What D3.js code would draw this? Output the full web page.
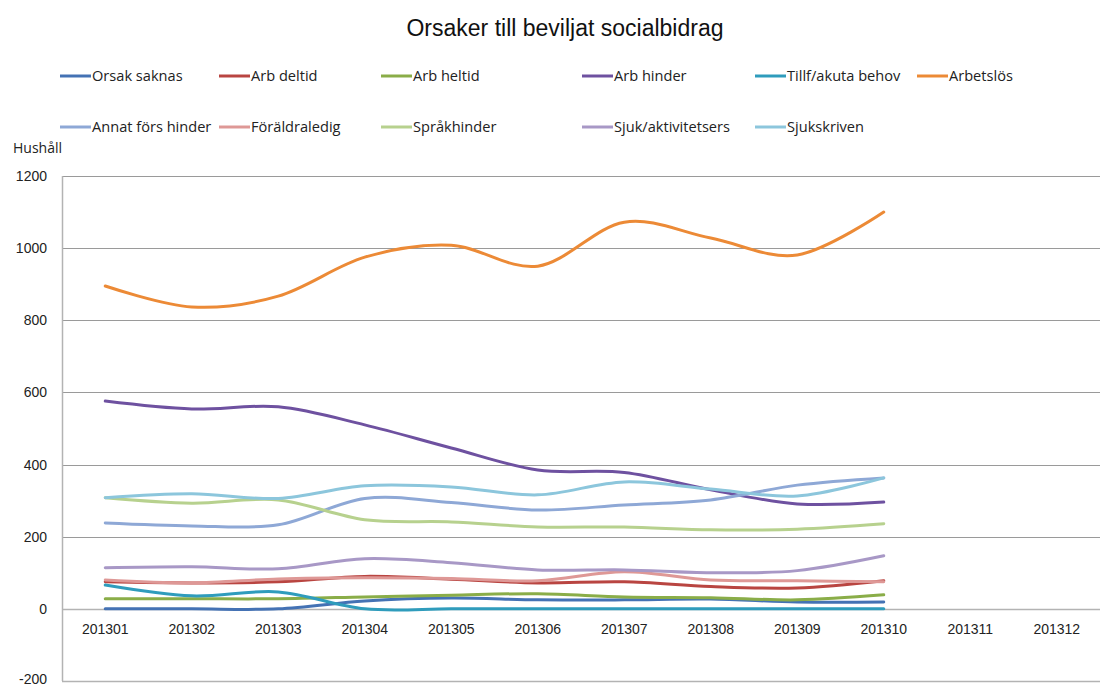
<!DOCTYPE html>
<html>
<head>
<meta charset="utf-8">
<script src="https://cdn.jsdelivr.net/npm/d3@7"></script>
<style>
  body { margin: 0; background: #fff; }
  text { font-family: "Liberation Sans", Arial, sans-serif; }
  .legend text, .ylabel { font-family: "Open Sans", "Noto Sans", sans-serif; }
</style>
</head>
<body>
<div id="chart"></div>
<script>
'use strict'

const months = ['201301', '201302', '201303', '201304', '201305', '201306',
  '201307', '201308', '201309', '201310', '201311', '201312']

const seriesNames = ['Orsak saknas', 'Arb deltid', 'Arb heltid', 'Arb hinder', 'Tillf/akuta behov', 'Arbetslös',
  'Annat förs hinder', 'Föräldraledig', 'Språkhinder', 'Sjuk/aktivitetsers', 'Sjukskriven']

const orsakSaknas = [0, 0, 0, 22, 30, 25, 25, 27, 19, 19]
const arbDeltid = [75, 72, 75, 90, 82, 72, 75, 62, 58, 78]
const arbHeltid = [28, 28, 28, 33, 38, 42, 33, 31, 25, 39]
const arbHinder = [576, 554, 560, 510, 446, 385, 378, 330, 291, 296]
const tillfAkuta = [66, 36, 47, 0, 0, 0, 0, 0, 0, 0]
const arbetslos = [895, 837, 867, 975, 1008, 950, 1072, 1028, 981, 1100]
const annatFors = [238, 230, 233, 306, 295, 274, 288, 302, 343, 363]
const foraldraledig = [80, 72, 83, 86, 84, 78, 103, 80, 78, 75]
const sprakhinder = [308, 293, 302, 247, 241, 227, 227, 219, 221, 236]
const sjukAktivitet = [114, 117, 111, 139, 128, 108, 108, 100, 106, 147]
const sjukskriven = [308, 319, 306, 341, 338, 316, 352, 332, 313, 363]

const yTicks = [-200, 0, 200, 400, 600, 800, 1000, 1200]

const colors = ['#4472b4', '#b94541', '#8aad48', '#6e51a0', '#2f9cbc', '#ec8a36',
  '#8ea8d6', '#de9896', '#b7d18e', '#a898c6', '#8cc6dc']

const series = [orsakSaknas, arbDeltid, arbHeltid, arbHinder, tillfAkuta, arbetslos,
  annatFors, foraldraledig, sprakhinder, sjukAktivitet, sjukskriven]
  .map((values, i) => ({ name: seriesNames[i], color: colors[i], values }))

const width = 1105, height = 686
const margin = { top: 176, right: 5, bottom: 5, left: 62 }

const svg = d3.select('#chart').append('svg')
  .attr('width', width)
  .attr('height', height)

svg.append('text')
  .attr('x', 565)
  .attr('y', 36)
  .attr('text-anchor', 'middle')
  .style('font-size', '23px')
  .style('fill', '#111')
  .text('Orsaker till beviljat socialbidrag')

// legend, two rows of six / five
const legendCols = [60, 219, 381, 582, 755, 917]
const legendRows = [76, 127]
const legend = svg.append('g').attr('class', 'legend')
series.forEach((s, i) => {
  const lx = legendCols[i % 6]
  const ly = legendRows[Math.floor(i / 6)]
  legend.append('line')
    .attr('x1', lx).attr('x2', lx + 31)
    .attr('y1', ly).attr('y2', ly)
    .style('stroke', s.color)
    .style('stroke-width', 3)
  legend.append('text')
    .attr('x', lx + 32)
    .attr('y', ly + 5)
    .style('font-size', '14.6px')
    .style('fill', '#222')
    .text(s.name)
})

svg.append('text')
  .attr('class', 'ylabel')
  .attr('x', 13)
  .attr('y', 153)
  .style('font-size', '14px')
  .style('fill', '#222')
  .text('Hushåll')

const x = d3.scalePoint()
  .domain(months)
  .range([margin.left, width - margin.right])
  .padding(0.5)

const y = d3.scaleLinear()
  .domain([-200, 1200])
  .range([681, margin.top])

// gridlines
svg.append('g')
  .selectAll('line')
  .data(yTicks)
  .join('line')
  .attr('x1', margin.left)
  .attr('x2', width - margin.right)
  .attr('y1', d => Math.round(y(d)) + 0.5)
  .attr('y2', d => Math.round(y(d)) + 0.5)
  .style('stroke', d => d === 0 || d === -200 ? '#b3b3b3' : '#9a9a9a')
  .style('stroke-width', d => d === 0 || d === -200 ? 1.5 : 1)

// y axis line
svg.append('line')
  .attr('x1', margin.left + 0.5).attr('x2', margin.left + 0.5)
  .attr('y1', y(1200)).attr('y2', y(-200))
  .style('stroke', '#b3b3b3')
  .style('stroke-width', 1.5)

svg.append('g')
  .selectAll('text')
  .data(yTicks)
  .join('text')
  .attr('x', 47)
  .attr('y', d => Math.min(y(d) + 5, 684))
  .attr('text-anchor', 'end')
  .style('font-size', '14px')
  .style('fill', '#222')
  .text(d => d)

svg.append('g')
  .selectAll('text')
  .data(months)
  .join('text')
  .attr('x', d => x(d))
  .attr('y', y(0) + 25)
  .attr('text-anchor', 'middle')
  .style('font-size', '14px')
  .style('fill', '#222')
  .text(d => d)

const line = d3.line()
  .x((d, i) => x(months[i]))
  .y(d => y(d))
  .curve(d3.curveCatmullRom.alpha(0))

svg.append('g')
  .selectAll('path')
  .data(series)
  .join('path')
  .attr('d', d => line(d.values))
  .style('fill', 'none')
  .style('stroke', d => d.color)
  .style('stroke-width', 3)
  .style('stroke-linejoin', 'round')
  .style('stroke-linecap', 'round')
</script>
</body>
</html>
